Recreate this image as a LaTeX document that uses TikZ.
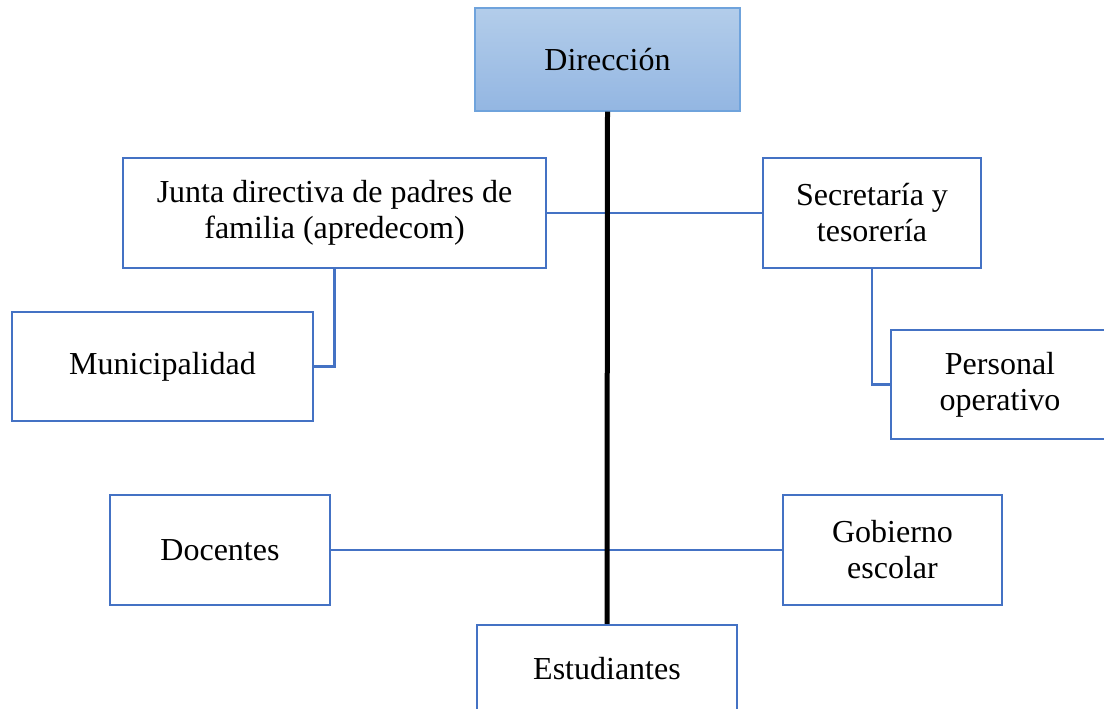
\documentclass[tikz,border=0pt]{standalone}
\usepackage{fontspec}
\setmainfont{Liberation Serif}
\definecolor{obox}{HTML}{4472C4}
\definecolor{dirb}{HTML}{6FA3DC}
\definecolor{dirtop}{HTML}{B3CDEA}
\definecolor{dirbot}{HTML}{93B6E2}
\tikzset{
  orgbox/.style={draw=obox, line width=2.4pt, fill=white, rectangle, align=center,
    inner sep=0pt, font=\fontsize{32}{36}\selectfont},
  topbox/.style={draw=dirb, line width=1.2pt, top color=dirtop, bottom color=dirbot,
    rectangle, align=center, inner sep=0pt, font=\fontsize{32}{36}\selectfont},
  link/.style={draw=obox, line width=2.2pt},
  spine/.style={draw=black, line width=5pt}
}
\begin{document}
\begin{tikzpicture}[x=1pt,y=-1pt]
\useasboundingbox (0,0) rectangle (1104,709);
\clip (0,0) rectangle (1104,709);
\node[topbox, minimum width=265, minimum height=103] (dir) at (607.5,59.5) {Dirección};
\node[orgbox, minimum width=423, minimum height=110] (junta) at (334.5,213) {Junta directiva de padres de\\familia (apredecom)};
\node[orgbox, minimum width=218, minimum height=110] (secr) at (872,213) {Secretaría y\\tesorería};
\node[orgbox, minimum width=301, minimum height=109] (muni) at (162.5,366.5) {Municipalidad};
\node[orgbox, minimum width=218, minimum height=109] (pers) at (1000,384.5) {Personal\\operativo};
\node[orgbox, minimum width=220, minimum height=110] (doc) at (220,550) {Docentes};
\node[orgbox, minimum width=219, minimum height=110] (gob) at (892.5,550) {Gobierno\\escolar};
\node[orgbox, minimum width=260, minimum height=88] (est) at (607,669) {Estudiantes};
\draw[link] (junta.east) -- (secr.west);
\draw[link] (junta.south) |- (muni.east);
\draw[link] (secr.south) |- (pers.west);
\draw[link] (doc.east) -- (gob.west);
\draw[spine] (dir.south) -- (est.north);
\end{tikzpicture}
\end{document}
